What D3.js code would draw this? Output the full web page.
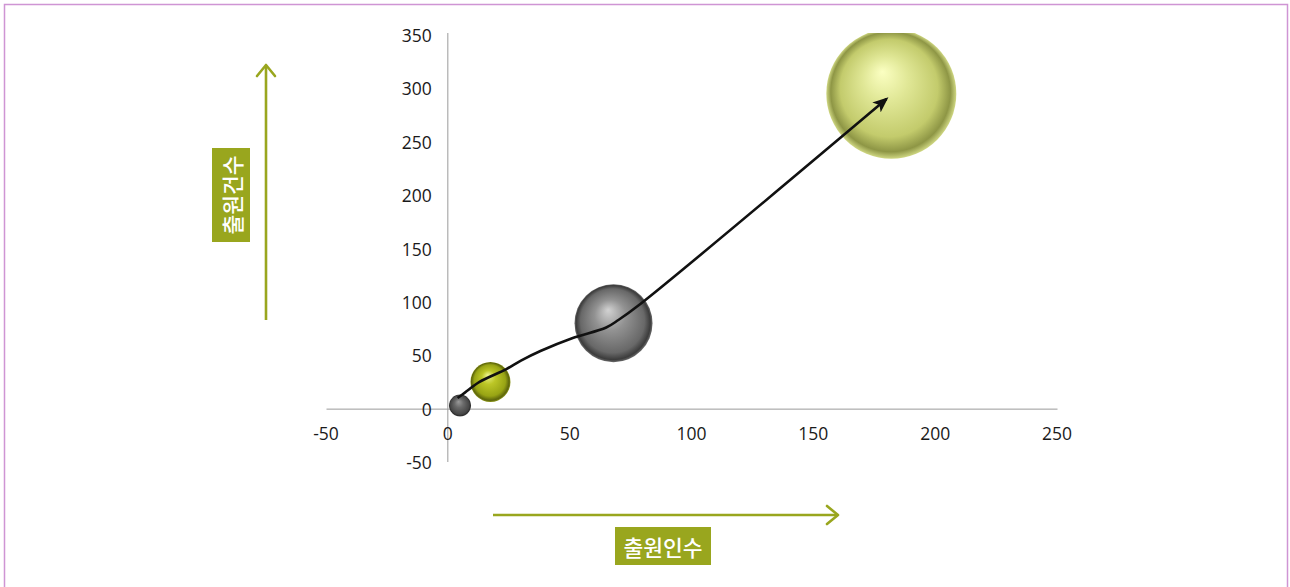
<!DOCTYPE html>
<html>
<head>
<meta charset="utf-8">
<script src="https://cdn.jsdelivr.net/npm/d3@7"></script>
<style>
  html, body { margin: 0; padding: 0; background: #fff; }
  svg { display: block; }
</style>
</head>
<body>
<svg id="chart" width="1290" height="587"></svg>
<script>
// Bubble data: applicants (x), filings (y), bubble size
const names   = ["A", "B", "C", "D"];
const xValues = [5, 17.5, 68, 182];
const yValues = [3, 25, 80, 295];
const sizes   = [11, 20, 39, 65];
const tones   = ["dark", "lime", "grey", "pale"];

// Trend arrow drawn through the bubbles (data units)
const trendX = [4, 7, 13, 24, 30, 38, 51, 65, 70, 79, 180];
const trendY = [10, 15, 25, 37, 45, 54, 66, 76, 83, 98, 290];

const xTicks = [-50, 0, 50, 100, 150, 200, 250];
const yTicks = [-50, 0, 50, 100, 150, 200, 250, 300, 350];

const xLabel = "출원인수";
const yLabel = "출원건수";

const svg = d3.select("#chart");
const olive = "#99a61e";

// Outer frame
svg.append("rect")
  .attr("x", 4.5).attr("y", 4.5)
  .attr("width", 1283).attr("height", 620)
  .attr("fill", "none").attr("stroke", "#cf95d4").attr("stroke-width", 1.5);

const x = d3.scaleLinear().domain([-50, 250]).range([326, 1057]);
const y = d3.scaleLinear().domain([-50, 350]).range([462, 35]);

const defs = svg.append("defs");

// Sphere shading
const shades = {
  dark: [["0%", "#9a9a9a"], ["40%", "#6a6a6a"], ["85%", "#464646"], ["96%", "#2e2e2e"], ["100%", "#555"]],
  grey: [["0%", "#d2d2d2"], ["40%", "#929292"], ["82%", "#686868"], ["95%", "#3c3c3c"], ["100%", "#6c6c6c"]],
  lime: [["0%", "#eef590"], ["35%", "#bcc626"], ["78%", "#98a414"], ["94%", "#5e660c"], ["100%", "#8a9418"]],
  pale: [["0%", "#fbffc2"], ["35%", "#e0e796"], ["75%", "#c3cb6c"], ["92%", "#8e9645"], ["100%", "#cfd782"]]
};
Object.entries(shades).forEach(([key, stops]) => {
  const g = defs.append("radialGradient").attr("id", "sphere-" + key)
    .attr("cx", "50%").attr("cy", "50%").attr("r", "50%")
    .attr("fx", "43%").attr("fy", "33%");
  stops.forEach(([o, c]) => g.append("stop").attr("offset", o).attr("stop-color", c));
});

defs.append("clipPath").attr("id", "plot-clip")
  .append("rect").attr("x", 300).attr("y", 33).attr("width", 800).attr("height", 460);

// Axes through the origin
const axisG = svg.append("g");
axisG.append("g")
  .attr("transform", `translate(0,${y(0)})`)
  .call(d3.axisBottom(x).tickValues([]).tickSize(0))
  .call(g => g.select(".domain").attr("stroke", "#9a9a9a").attr("stroke-width", 1));
axisG.append("g")
  .attr("transform", `translate(${x(0)},0)`)
  .call(d3.axisLeft(y).tickValues([]).tickSize(0))
  .call(g => g.select(".domain").attr("stroke", "#9a9a9a").attr("stroke-width", 1)
    .attr("d", `M0,${y(-50)}V${y(350) - 2}`));

const tickFont = "'Open Sans', 'Noto Sans', sans-serif";
svg.append("g").selectAll("text").data(xTicks).join("text")
  .attr("x", d => x(d)).attr("y", y(0) + 24)
  .attr("text-anchor", "middle").attr("dominant-baseline", "central")
  .attr("font-family", tickFont).attr("font-size", 17.5).attr("fill", "#1a1a1a")
  .text(d => d);
svg.append("g").selectAll("text").data(yTicks).join("text")
  .attr("x", x(0) - 16).attr("y", d => y(d))
  .attr("text-anchor", "end").attr("dominant-baseline", "central")
  .attr("font-family", tickFont).attr("font-size", 17.5).attr("fill", "#1a1a1a")
  .text(d => d);

// Bubbles
const bubbles = names.map((n, i) => ({ n, x: xValues[i], y: yValues[i], s: sizes[i], t: tones[i] }));
svg.append("g").attr("clip-path", "url(#plot-clip)")
  .selectAll("circle").data(bubbles).join("circle")
  .attr("cx", d => x(d.x)).attr("cy", d => y(d.y)).attr("r", d => d.s)
  .attr("fill", d => `url(#sphere-${d.t})`);

// Trend arrow
defs.append("marker").attr("id", "black-head")
  .attr("viewBox", "0 0 12 10").attr("refX", 10).attr("refY", 5)
  .attr("markerWidth", 6).attr("markerHeight", 5).attr("markerUnits", "strokeWidth")
  .attr("orient", "auto")
  .append("path").attr("d", "M0,0L12,5L0,10L3,5Z").attr("fill", "#111");

const trend = trendX.map((v, i) => [v, trendY[i]]);
svg.append("path")
  .datum(trend)
  .attr("d", d3.line().x(d => x(d[0])).y(d => y(d[1])).curve(d3.curveCatmullRom.alpha(0.5)))
  .attr("fill", "none").attr("stroke", "#111").attr("stroke-width", 2.6)
  .attr("stroke-linejoin", "round").attr("marker-end", "url(#black-head)");

// Direction arrows with axis captions
function chevron(g, tipX, tipY, dir) {
  const a = 9, b = 11;
  const pts = dir === "up"
    ? [[tipX - a, tipY + b], [tipX, tipY], [tipX + a, tipY + b]]
    : [[tipX - b, tipY - a], [tipX, tipY], [tipX - b, tipY + a]];
  g.append("path").attr("d", d3.line()(pts))
    .attr("fill", "none").attr("stroke", olive).attr("stroke-width", 2.6)
    .attr("stroke-linecap", "round").attr("stroke-linejoin", "round");
}

const guide = svg.append("g");
guide.append("line").attr("x1", 266).attr("y1", 320).attr("x2", 266).attr("y2", 66)
  .attr("stroke", olive).attr("stroke-width", 2.6);
chevron(guide, 266, 65, "up");
guide.append("line").attr("x1", 493).attr("y1", 515).attr("x2", 837).attr("y2", 515)
  .attr("stroke", olive).attr("stroke-width", 2.6);
chevron(guide, 838, 515, "right");

const capFont = "'Noto Sans CJK KR', sans-serif";
guide.append("rect").attr("x", 212).attr("y", 148).attr("width", 38).attr("height", 94).attr("fill", olive);
guide.append("text")
  .attr("transform", "translate(231,195) rotate(-90)")
  .attr("text-anchor", "middle").attr("dominant-baseline", "central")
  .attr("font-family", capFont).attr("font-size", 21.5).attr("font-weight", 500).attr("fill", "#fff")
  .text(yLabel);

guide.append("rect").attr("x", 615).attr("y", 527).attr("width", 96).attr("height", 38).attr("fill", olive);
guide.append("text")
  .attr("x", 663).attr("y", 546)
  .attr("text-anchor", "middle").attr("dominant-baseline", "central")
  .attr("font-family", capFont).attr("font-size", 21.5).attr("font-weight", 500).attr("fill", "#fff")
  .text(xLabel);
</script>
</body>
</html>
